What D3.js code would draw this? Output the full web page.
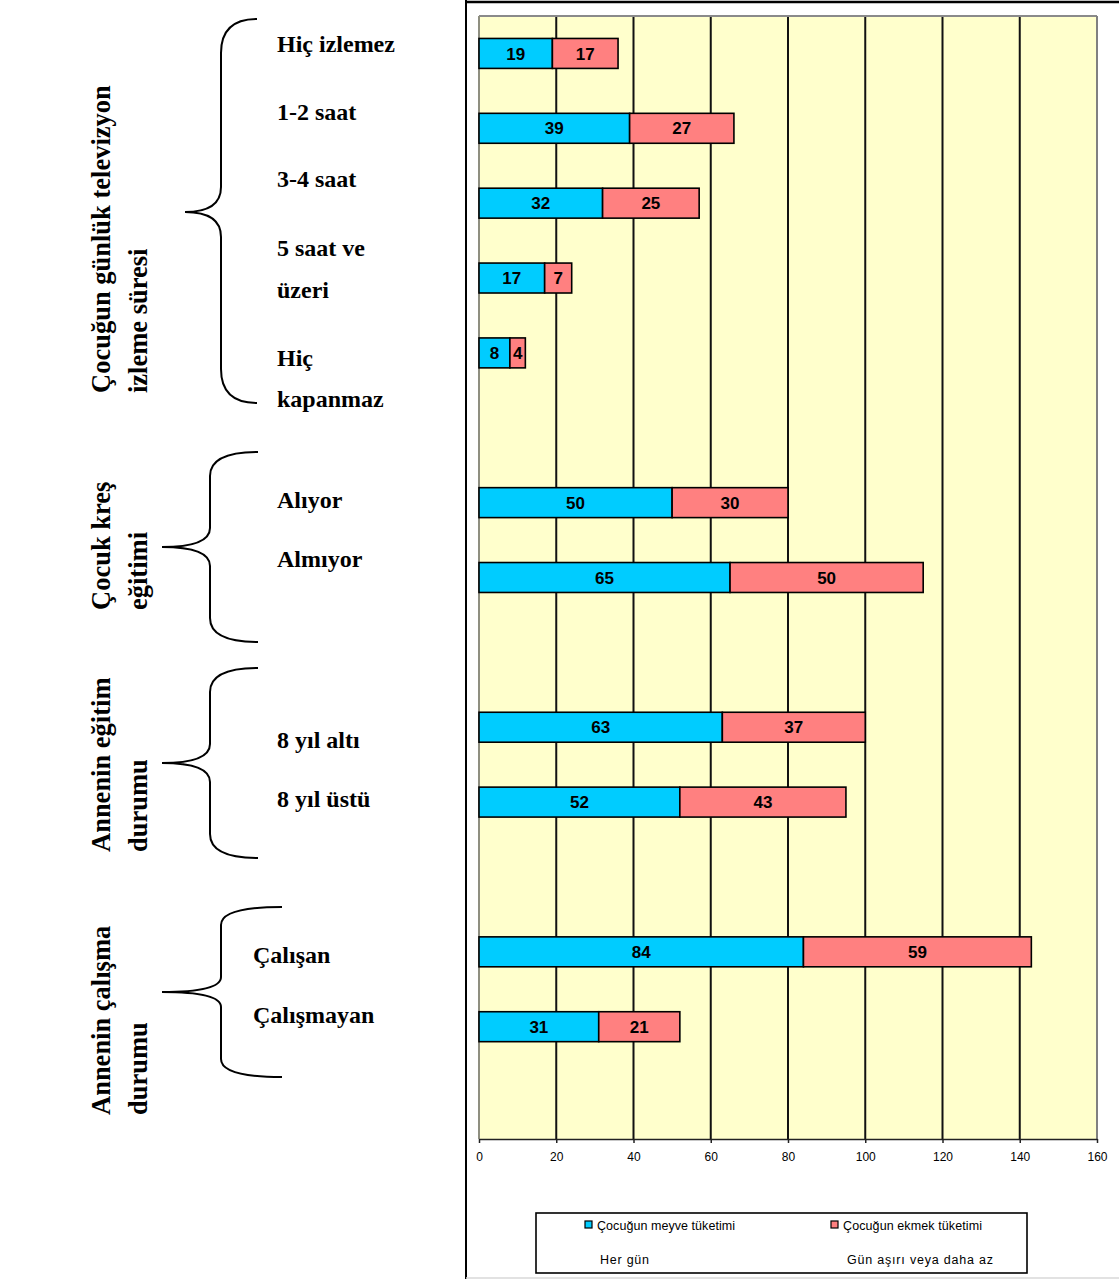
<!DOCTYPE html>
<html>
<head>
<meta charset="utf-8">
<script src="https://cdn.jsdelivr.net/npm/d3@7"></script>
<style>
  html, body { margin: 0; padding: 0; background: #ffffff; }
  svg { display: block; }
</style>
</head>
<body>
<svg id="chart" width="1119" height="1279"></svg>
<script>
// ---------- data ----------
const categoryKeys = ["c0","c1","c2","c3","c4","gap1","c5","c6","gap2","c7","c8","gap3","c9","c10","gap4"];
const categoryNames = ["Hiç izlemez","1-2 saat","3-4 saat","5 saat ve üzeri","Hiç kapanmaz","",
                       "Alıyor","Almıyor","","8 yıl altı","8 yıl üstü","","Çalışan","Çalışmayan",""];
const meyveValues = [19, 39, 32, 17, 8, null, 50, 65, null, 63, 52, null, 84, 31, null];
const ekmekValues = [17, 27, 25, 7, 4, null, 30, 50, null, 37, 43, null, 59, 21, null];
const seriesNames = ["Çocuğun meyve tüketimi", "Çocuğun ekmek tüketimi"];
const seriesSubNames = ["Her gün", "Gün aşırı veya daha az"];
const xTicks = [0, 20, 40, 60, 80, 100, 120, 140, 160];

const groupTitles = [
  ["Çocuğun günlük televizyon", "izleme süresi"],
  ["Çocuk kreş", "eğitimi"],
  ["Annenin eğitim", "durumu"],
  ["Annenin çalışma", "durumu"]
];
const groupLabelLines = [
  ["Hiç izlemez", "1-2 saat", "3-4 saat", "5 saat ve", "üzeri", "Hiç", "kapanmaz"],
  ["Alıyor", "Almıyor"],
  ["8 yıl altı", "8 yıl üstü"],
  ["Çalışan", "Çalışmayan"]
];

// ---------- layout (positions, not data) ----------
const plot = { left: 479, right: 1097, top: 16, bottom: 1139 };
const colors = { meyve: "#00CCFF", ekmek: "#FF8080", bg: "#FFFFCC" };
const labelLayout = [
  { x: 277, baselines: [52, 120, 187, 256, 298, 366, 407] },
  { x: 277, baselines: [508, 567] },
  { x: 277, baselines: [748, 807] },
  { x: 253, baselines: [963, 1023] }
];
const titleLayout = [
  { startY: 393 }, { startY: 610 }, { startY: 852 }, { startY: 1115 }
];
const braceLayout = [
  { endX: 257, spineX: 221, tipX: 185, top: 19,  mid: 212, bottom: 403, r: 34, r2: 25 },
  { endX: 258, spineX: 210, tipX: 162, top: 452, mid: 547, bottom: 642, r: 24, r2: 19 },
  { endX: 258, spineX: 210, tipX: 162, top: 668, mid: 763, bottom: 858, r: 24, r2: 19 },
  { endX: 282, spineX: 221, tipX: 162, top: 907, mid: 992, bottom: 1077, r: 18, r2: 15 }
];
const legendLayout = [
  { sq: 585, tx: 597, txW: 138, sub: 600, subW: 49 },
  { sq: 831, tx: 843, txW: 139, sub: 847, subW: 146 }
];

const svg = d3.select("#chart");

// ---------- outer frame ----------
svg.append("line").attr("x1", 466).attr("x2", 466).attr("y1", 0).attr("y2", 1279)
  .attr("stroke", "#000").attr("stroke-width", 2);
svg.append("line").attr("x1", 465).attr("x2", 1119).attr("y1", 2).attr("y2", 2)
  .attr("stroke", "#000").attr("stroke-width", 2.5);
svg.append("line").attr("x1", 466).attr("x2", 1119).attr("y1", 1278).attr("y2", 1278)
  .attr("stroke", "#d8d8d8").attr("stroke-width", 1.5);

// ---------- scales ----------
const x = d3.scaleLinear().domain([0, 160]).range([plot.left, plot.right]);
const y = d3.scaleBand().domain(categoryKeys).range([plot.top, plot.bottom])
  .paddingInner(0.6).paddingOuter(0.3);

// plot background
svg.append("rect").attr("x", plot.left).attr("y", plot.top)
  .attr("width", plot.right - plot.left).attr("height", plot.bottom - plot.top)
  .attr("fill", colors.bg);

// gridlines
svg.append("g").selectAll("line")
  .data(xTicks.filter(t => t > 0 && t < 160))
  .join("line")
  .attr("x1", d => x(d)).attr("x2", d => x(d))
  .attr("y1", plot.top).attr("y2", plot.bottom)
  .attr("stroke", "#111").attr("stroke-width", 2);

// plot border (gray top/right/left)
svg.append("line").attr("x1", plot.left).attr("x2", plot.right).attr("y1", plot.top).attr("y2", plot.top)
  .attr("stroke", "#8a8a8a").attr("stroke-width", 2);
svg.append("line").attr("x1", plot.right).attr("x2", plot.right).attr("y1", plot.top).attr("y2", plot.bottom)
  .attr("stroke", "#808080").attr("stroke-width", 2);
svg.append("line").attr("x1", plot.left).attr("x2", plot.left).attr("y1", plot.top).attr("y2", plot.bottom)
  .attr("stroke", "#8f8f80").attr("stroke-width", 2);

// x axis
const axis = svg.append("g").attr("transform", `translate(0,${plot.bottom})`)
  .call(d3.axisBottom(x).tickValues(xTicks).tickSize(4).tickSizeOuter(0).tickFormat(d3.format("d")));
axis.select(".domain").attr("stroke", "#222").attr("stroke-width", 1.5);
axis.selectAll(".tick line").attr("stroke", "#222").attr("stroke-width", 1.5);
axis.selectAll(".tick text").attr("font-family", "Arial, 'Liberation Sans', sans-serif")
  .attr("font-size", 12).attr("fill", "#000").attr("dy", "0.71em").attr("y", 13);

// ---------- bars ----------
const rows = categoryKeys.map((k, i) => ({ key: k, meyve: meyveValues[i], ekmek: ekmekValues[i] }))
  .filter(d => d.meyve != null);
const stack = d3.stack().keys(["meyve", "ekmek"])(rows);

const barG = svg.append("g");
stack.forEach(layer => {
  const g = barG.append("g");
  g.selectAll("rect").data(layer).join("rect")
    .attr("x", d => x(d[0]))
    .attr("y", d => y(d.data.key))
    .attr("width", d => x(d[1]) - x(d[0]))
    .attr("height", y.bandwidth())
    .attr("fill", colors[layer.key])
    .attr("stroke", "#000").attr("stroke-width", 1.6);
  g.selectAll("text").data(layer).join("text")
    .attr("x", d => (x(d[0]) + x(d[1])) / 2)
    .attr("y", d => y(d.data.key) + y.bandwidth() / 2)
    .attr("dy", "0.36em")
    .attr("text-anchor", "middle")
    .attr("font-family", "Arial, 'Liberation Sans', sans-serif")
    .attr("font-weight", "bold").attr("font-size", 17).attr("fill", "#000")
    .text(d => d[1] - d[0]);
});

// ---------- legend ----------
const leg = svg.append("g");
leg.append("rect").attr("x", 536).attr("y", 1213).attr("width", 491).attr("height", 60)
  .attr("fill", "#fff").attr("stroke", "#000").attr("stroke-width", 1.6);
const legendColors = [colors.meyve, colors.ekmek];
legendLayout.forEach((it, i) => {
  leg.append("rect").attr("x", it.sq).attr("y", 1221).attr("width", 7).attr("height", 7)
    .attr("fill", legendColors[i]).attr("stroke", "#000").attr("stroke-width", 1.2);
  leg.append("text").attr("x", it.tx).attr("y", 1230)
    .attr("font-family", "Arial, 'Liberation Sans', sans-serif").attr("font-size", 12.5)
    .attr("textLength", it.txW).attr("lengthAdjust", "spacing")
    .attr("fill", "#000").text(seriesNames[i]);
  leg.append("text").attr("x", it.sub).attr("y", 1264)
    .attr("font-family", "Arial, 'Liberation Sans', sans-serif").attr("font-size", 12.5)
    .attr("textLength", it.subW).attr("lengthAdjust", "spacing")
    .attr("fill", "#000").text(seriesSubNames[i]);
});

// ---------- left annotations ----------
const serif = "'Times New Roman', 'Liberation Serif', serif";
groupLabelLines.forEach((lines, gi) => {
  const L = labelLayout[gi];
  svg.append("g").selectAll("text").data(lines).join("text")
    .attr("x", L.x).attr("y", (d, i) => L.baselines[i])
    .attr("font-family", serif).attr("font-weight", "bold").attr("font-size", 24)
    .attr("fill", "#000").text(d => d);
});

groupTitles.forEach((lines, gi) => {
  const T = titleLayout[gi];
  svg.append("g").selectAll("text").data(lines).join("text")
    .attr("transform", (d, i) => `translate(${110 + i * 37},${T.startY}) rotate(-90)`)
    .attr("font-family", serif).attr("font-weight", "bold").attr("font-size", 26.5)
    .attr("fill", "#000").text(d => d);
});

function bracePath(b) {
  return `M${b.endX},${b.top} Q${b.spineX},${b.top} ${b.spineX},${b.top + b.r}
          L${b.spineX},${b.mid - b.r2} Q${b.spineX},${b.mid} ${b.tipX},${b.mid}
          Q${b.spineX},${b.mid} ${b.spineX},${b.mid + b.r2}
          L${b.spineX},${b.bottom - b.r} Q${b.spineX},${b.bottom} ${b.endX},${b.bottom}`;
}
svg.append("g").selectAll("path").data(braceLayout).join("path")
  .attr("d", bracePath).attr("fill", "none").attr("stroke", "#000").attr("stroke-width", 2);
</script>
</body>
</html>
